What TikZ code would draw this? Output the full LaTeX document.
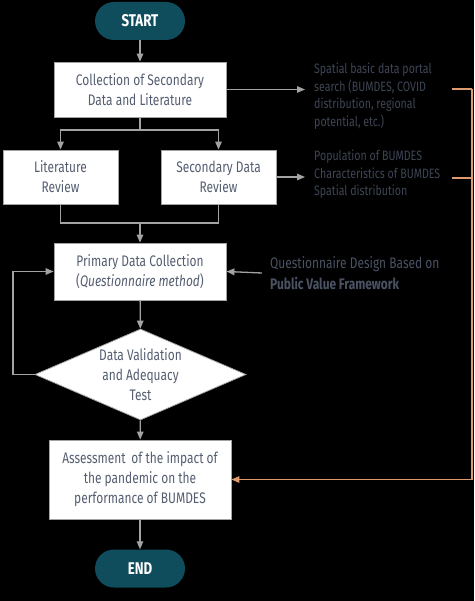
\documentclass[tikz,border=0pt]{standalone}
\usepackage{fontspec}
\setmainfont{Fira Sans}[FakeStretch=0.78]
\usetikzlibrary{arrows.meta,shapes.geometric}
\definecolor{teal}{HTML}{0F4C5C}
\definecolor{boxtext}{HTML}{555E71}
\definecolor{sidetext}{HTML}{3E4554}
\definecolor{qtext}{HTML}{4A5263}
\definecolor{linegrey}{HTML}{A3A3A3}
\definecolor{orangeline}{HTML}{DF9A6E}
\begin{document}
\begin{tikzpicture}[x=1pt,y=-1pt,
  every node/.style={font=\fontsize{15.3}{20}\selectfont},
  procbox/.style={draw=linegrey,line width=0.8pt,fill=white,text=boxtext,align=center,inner sep=0pt},
  term/.style={fill=teal,text=white,rounded corners=19pt,minimum width=90pt,minimum height=38pt,font=\fontsize{17}{18}\selectfont\bfseries},
  sidenote/.style={text=sidetext,align=left,inner sep=0pt,font=\fontsize{13.6}{17.5}\selectfont},
  conn/.style={draw=linegrey,line width=1.3pt},
  arr/.style={conn,-{Triangle[width=6.5pt,length=8pt]}},
  oarr/.style={draw=orangeline,line width=1.3pt},
]
\fill[black] (0,0) rectangle (474,601);
\useasboundingbox (0,0) rectangle (474,601);

\node[term] (start) at (140,21) {START};
\node[procbox,minimum width=172pt,minimum height=55pt] (coll) at (140,89.5) {Collection of Secondary\\Data and Literature};
\node[procbox,minimum width=115pt,minimum height=54pt] (lit) at (60.5,177) {Literature\\Review};
\node[procbox,minimum width=115pt,minimum height=54pt] (sec) at (218.5,177) {Secondary Data\\Review};
\node[procbox,minimum width=172pt,minimum height=57pt] (prim) at (140,271.5) {Primary Data Collection\\(\textit{Questionnaire method})};
\node[procbox,shape=diamond,aspect=2.32,minimum width=211pt,minimum height=91pt] (val) at (140.5,374.5) {Data Validation\\and Adequacy\\Test};
\node[procbox,minimum width=182pt,minimum height=79pt] (assess) at (140,479.5) {Assessment\, of the impact of\\the pandemic on the\\performance of BUMDES};
\node[term] (end) at (140,568.5) {END};

\node[sidenote,anchor=north west] (s1) at (314,63) {Spatial basic data portal\\search (BUMDES, COVID\\distribution, regional\\potential, etc.)};
\node[sidenote,anchor=north west] (s2) at (314,150) {Population of BUMDES\\Characteristics of BUMDES\\Spatial distribution};
\node[sidenote,anchor=west,font=\fontsize{15.3}{21}\selectfont,text=qtext] (q) at (270,273) {Questionnaire Design Based on\\\textbf{Public Value Framework}};

\coordinate (o1) at (452,89);
\coordinate (o2) at (452,178);
\coordinate (ocorner) at (472,89);
\coordinate (split) at (140,130);
\coordinate (merge) at (140,223);
\coordinate (loopl) at (13,374.5);

\draw[arr] (start) -- (coll);
\draw[arr] (coll.east) -- (305,89.5);
\draw[arr] (sec.east) -- (305,177);
\draw[conn] (coll.south) -- (split);
\draw[arr] (split) -| (lit.north);
\draw[arr] (split) -| (sec.north);
\draw[conn] (lit.south) |- (merge);
\draw[conn] (sec.south) |- (merge);
\draw[arr] (merge) -- (prim.north);
\draw[arr] (q.west) ++(-8,0) -- (prim.east);
\draw[arr] (prim) -- (val);
\draw[conn] (val.west) -- (loopl);
\draw[arr] (loopl) |- (prim.west);
\draw[arr] (val) -- (assess);
\draw[arr] (assess) -- (end);

\draw[oarr] (o1) -- (ocorner);
\draw[oarr] (o2) -- (472,178);
\draw[oarr,-{Triangle[width=6.5pt,length=8pt]}] (ocorner) |- (assess.east);
\end{tikzpicture}
\end{document}
